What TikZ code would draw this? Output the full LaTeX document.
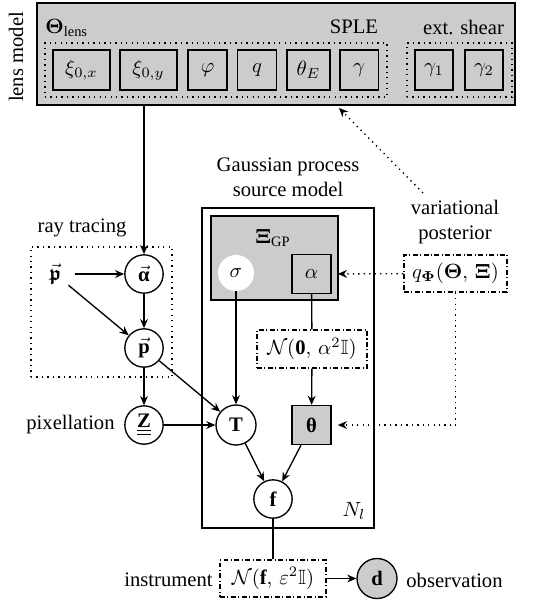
\documentclass[tikz,border=0pt]{standalone}
\usepackage{amsmath}
\usepackage{amssymb}
\usepackage{bm}
\usepackage{fontspec}
\setmainfont{Liberation Serif}
\usetikzlibrary{arrows.meta}
\definecolor{boxgray}{RGB}{204,204,204}
\tikzset{
  arr/.style={-{Stealth[length=4.4pt,width=3.8pt,inset=1.4pt]}, line width=0.65pt},
  darr/.style={-{Stealth[length=4.4pt,width=3.8pt,inset=1.4pt]}, line width=0.65pt, dotted},
  circ/.style={circle, draw, line width=0.65pt, minimum size=18.6pt, inner sep=0pt},
  sqbox/.style={rectangle, draw, line width=0.65pt, minimum width=18.9pt, minimum height=18.9pt, inner sep=0pt},
  parbox/.style={rectangle, draw, line width=0.65pt, minimum height=19.4pt, inner sep=0pt},
  dotbox/.style={rectangle, draw, dotted, line width=0.65pt, inner sep=0pt},
  ddbox/.style={rectangle, draw, line width=0.65pt, inner sep=0pt, dash pattern=on 2.4pt off 1.2pt on 0.5pt off 1.2pt},
  lbl/.style={inner sep=0pt},
}
\begin{document}
\begin{tikzpicture}[x=0.485pt, y=-0.485pt]
\useasboundingbox (0,0) rectangle (535,600);

% lens model box
\node[rectangle, draw, fill=boxgray, line width=0.75pt, minimum width=231.8pt, minimum height=49.5pt, inner sep=0pt] (lens) at (276,54) {};
\node[lbl, rotate=90] (lenslbl) at (16,57) {lens model};
\node[lbl, anchor=west] (thetalens) at (45,28) {$\bm{\Theta}_{\mathrm{lens}}$};
\node[lbl] (sple) at (354,27) {SPLE};
\node[lbl] (shear) at (463.5,27) {ext. shear};
\node[dotbox, minimum width=165.9pt, minimum height=26.2pt] (splebox) at (216,70) {};
\node[dotbox, minimum width=50.9pt, minimum height=26.2pt] (shearbox) at (459.5,70) {};
\node[parbox, minimum width=27.6pt] (xix) at (81.5,70) {$\xi_{0,x}$};
\node[parbox, minimum width=27.6pt] (xiy) at (148.5,70) {$\xi_{0,y}$};
\node[parbox, minimum width=18.9pt] (phi) at (207.5,70) {$\varphi$};
\node[parbox, minimum width=19.2pt] (qq) at (257,70) {$q$};
\node[parbox, minimum width=20.9pt] (thE) at (308.5,70) {$\theta_E$};
\node[parbox, minimum width=18.6pt] (gam) at (359,70) {$\gamma$};
\node[parbox, minimum width=18.4pt] (g1) at (434,70) {$\gamma_1$};
\node[parbox, minimum width=18.4pt] (g2) at (484,70) {$\gamma_2$};

% ray tracing
\node[lbl] (raylbl) at (82,228) {ray tracing};
\node[dotbox, minimum width=68.4pt, minimum height=63.1pt] (raybox) at (101.5,312) {};
\node (fp) at (55,274) {$\vec{\bm{\mathfrak{p}}}$};
\node[circ] (alphav) at (144,274) {$\vec{\textbf{α}}$};
\node[circ] (pv) at (144,348) {$\vec{\mathbf{p}}$};
\node[circ] (Z) at (144,425) {$\underline{\underline{\mathbf{Z}}}$};
\node[lbl] (pixlbl) at (70.5,425) {pixellation};

% Gaussian process source model
\node[lbl, align=center] (gplbl) at (288,177) {Gaussian process\\source model};
\node[rectangle, draw, line width=0.9pt, minimum width=83.4pt, minimum height=155.2pt, inner sep=0pt] (plate) at (288,368) {};
\node[rectangle, draw, fill=boxgray, line width=0.75pt, minimum width=61.6pt, minimum height=40.7pt, inner sep=0pt] (xigp) at (274.5,258) {};
\node[lbl] (xilbl) at (273,238) {$\bm{\Xi}_{\mathrm{GP}}$};
\node[circle, fill=white, minimum size=17.5pt, inner sep=0pt] (sigma) at (236,273) {$\sigma$};
\node[sqbox] (alphab) at (311.5,274) {$\alpha$};
\node[ddbox, minimum width=53.4pt, minimum height=18.4pt] (nprior) at (312,349) {$\mathcal{N}(\mathbf{0},\,\alpha^2\mathbb{I})$};
\node[circ, minimum size=19.4pt] (T) at (236,425) {$\mathbf{T}$};
\node[sqbox, fill=boxgray] (thetab) at (311.5,425) {\textbf{θ}};
\node[circ] (f) at (273,499) {$\mathbf{f}$};
\node[lbl] (nl) at (354,511) {$N_l$};

% variational posterior
\node[lbl, align=center] (varlbl) at (455,222) {variational\\posterior};
\node[ddbox, minimum width=50pt, minimum height=17.9pt] (q) at (455.5,273.5) {$q_{\bm{\Phi}}(\bm{\Theta},\,\bm{\Xi})$};
\coordinate (vstart) at (423,193);
\coordinate (vend) at (339,108);

% observation
\node[ddbox, minimum width=51.4pt, minimum height=17.9pt] (instr) at (273,578.5) {$\mathcal{N}(\mathbf{f},\,\varepsilon^2\mathbb{I})$};
\node[lbl] (instrlbl) at (168.5,580) {instrument};
\node[circ, fill=boxgray, minimum size=19.4pt] (d) at (377,578.5) {$\mathbf{d}$};
\node[lbl] (obslbl) at (454.5,580) {observation};

% connectors
\draw[arr] (lens.south -| alphav) -- (alphav);
\draw[arr, shorten <=3pt] (fp) -- (alphav);
\draw[arr] (fp) -- (pv);
\draw[arr] (alphav) -- (pv);
\draw[arr] (pv) -- (Z);
\draw[arr] (pv) -- (T);
\draw[arr] (Z) -- (T);
\draw[arr] (sigma) -- (T);
\draw[line width=0.65pt] (alphab) -- (nprior);
\draw[arr] (nprior) -- (thetab);
\draw[arr] (T) -- (f);
\draw[arr] (thetab) -- (f);
\draw[line width=0.65pt] (f) -- (instr);
\draw[arr] (instr) -- (d);
\draw[darr, shorten >=3pt] (q) -- (alphab);
\draw[darr, shorten >=3pt] (q.south) |- (thetab);
\draw[darr] (vstart) -- (vend);
\end{tikzpicture}
\end{document}
